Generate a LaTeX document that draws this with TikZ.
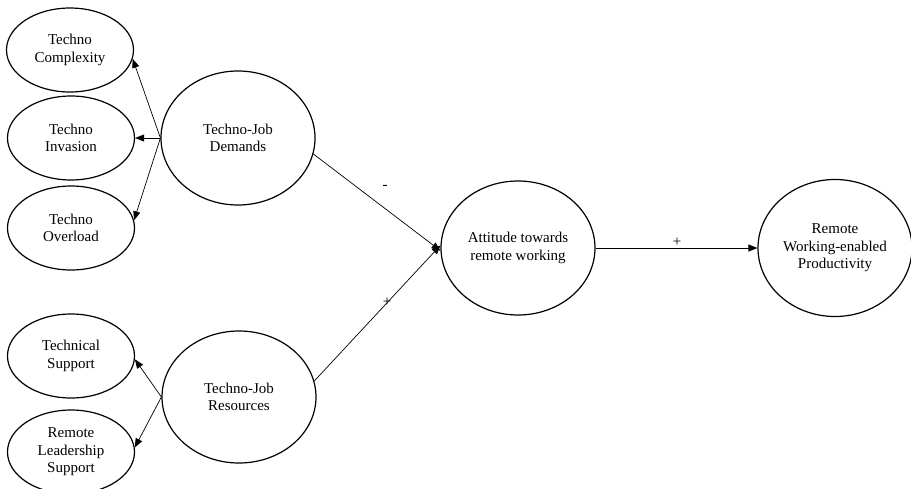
\documentclass[tikz,border=0pt]{standalone}
\usepackage{fontspec}
\setmainfont{Liberation Serif}
\usetikzlibrary{shapes.geometric,arrows.meta}
\begin{document}
\begin{tikzpicture}[x=1pt,y=-1pt,
  small/.style={ellipse,draw,line width=1.2pt,minimum width=127pt,minimum height=84pt,inner sep=0pt,align=center,font=\fontsize{15}{17.5}\selectfont},
  big/.style={ellipse,draw,line width=1.2pt,minimum width=154pt,minimum height=134pt,inner sep=0pt,align=center,font=\fontsize{15}{17.5}\selectfont},
  arr/.style={line width=0.7pt,-{Triangle[length=9pt,width=7pt]}},
  lbl/.style={font=\fontsize{15}{17.5}\selectfont,inner sep=0pt}]
\useasboundingbox (0,0) rectangle (911,488);
\node[small] (cx) at (70,50) {Techno\\Complexity};
\node[small] (inv) at (71,138) {Techno\\Invasion};
\node[small] (ov) at (71,228) {Techno\\Overload};
\node[small] (ts) at (71,356) {Technical\\Support};
\node[small] (rls) at (71,452) {Remote\\Leadership\\Support};
\node[big] (dem) at (238,138) {Techno-Job\\Demands};
\node[big,minimum height=132pt] (res) at (239,397) {Techno-Job\\Resources};
\node[big] (att) at (518,248) {Attitude towards\\remote working};
\node[big,minimum height=137pt] (prod) at (835,248) {Remote\\Working-enabled\\Productivity};
\draw[arr] (dem.west) -- (cx.-8);
\draw[arr] (dem.west) -- (inv.east);
\draw[arr] (dem.west) -- (ov.7);
\draw[arr] (res.west) -- (ts.-3);
\draw[arr] (res.west) -- (rls.4);
\draw[arr] (dem.-12) -- (att.182);
\draw[arr] (res.12) -- (att.178);
\draw[arr] (att.east) -- (prod.west);
\node[lbl] (m1) at (385,187) {-};
\node[lbl] (p1) at (387,302) {+};
\node[lbl] (p2) at (677,242) {+};
\end{tikzpicture}
\end{document}
